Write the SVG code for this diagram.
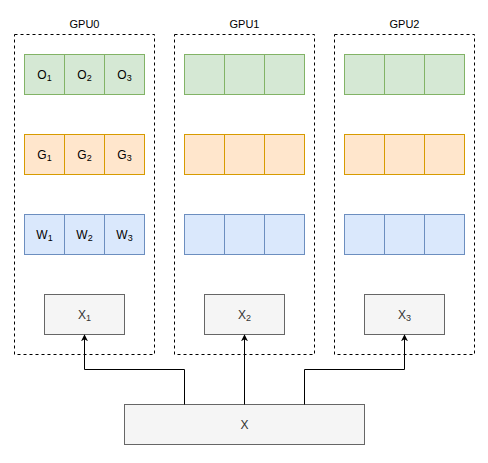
<svg xmlns="http://www.w3.org/2000/svg" width="488" height="463" viewBox="0 0 488 463">
<defs>
<marker id="arr" viewBox="0 0 10 10" refX="9" refY="5" markerWidth="7" markerHeight="7" orient="auto" markerUnits="userSpaceOnUse">
<path d="M0,0 L10,5 L0,10 L3,5 Z" fill="#000"/>
</marker>
</defs>
<style>
text{font-family:"Liberation Sans",Arial,Helvetica,sans-serif;}
.gpu{fill:none;stroke:#000;stroke-width:1;stroke-dasharray:3,3;}
.title{font-size:11px;fill:#000;text-anchor:middle;}
.o{fill:#d5e8d4;stroke:#82b366;}
.g{fill:#ffe6cc;stroke:#d79b00;}
.w{fill:#dae8fc;stroke:#6c8ebf;}
.x{fill:#f5f5f5;stroke:#666666;}
.lbl{font-size:12px;fill:#000;text-anchor:middle;}
.xl{font-size:12px;fill:#333333;text-anchor:middle;}
.sub{font-size:9px;}
.conn{fill:none;stroke:#000;stroke-width:1;}
</style>
<rect width="488" height="463" fill="#fff"/>

<g id="gpu0">
<rect class="gpu" x="14.5" y="34.5" width="140" height="320"/>
<text class="title" x="84.5" y="28">GPU0</text>
</g>
<g id="gpu1">
<rect class="gpu" x="174.5" y="34.5" width="140" height="320"/>
<text class="title" x="244.5" y="28">GPU1</text>
</g>
<g id="gpu2">
<rect class="gpu" x="334.5" y="34.5" width="140" height="320"/>
<text class="title" x="404.5" y="28">GPU2</text>
</g>

<g id="gpu0-O">
<rect class="o" x="24.5" y="54.5" width="40" height="40"/>
<rect class="o" x="64.5" y="54.5" width="40" height="40"/>
<rect class="o" x="104.5" y="54.5" width="40" height="40"/>
<text class="lbl" x="44.5" y="78.5">O<tspan class="sub" dy="2">1</tspan></text>
<text class="lbl" x="84.5" y="78.5">O<tspan class="sub" dy="2">2</tspan></text>
<text class="lbl" x="124.5" y="78.5">O<tspan class="sub" dy="2">3</tspan></text>
</g>
<g id="gpu0-G">
<rect class="g" x="24.5" y="134.5" width="40" height="40"/>
<rect class="g" x="64.5" y="134.5" width="40" height="40"/>
<rect class="g" x="104.5" y="134.5" width="40" height="40"/>
<text class="lbl" x="44.5" y="158.5">G<tspan class="sub" dy="2">1</tspan></text>
<text class="lbl" x="84.5" y="158.5">G<tspan class="sub" dy="2">2</tspan></text>
<text class="lbl" x="124.5" y="158.5">G<tspan class="sub" dy="2">3</tspan></text>
</g>
<g id="gpu0-W">
<rect class="w" x="24.5" y="214.5" width="40" height="40"/>
<rect class="w" x="64.5" y="214.5" width="40" height="40"/>
<rect class="w" x="104.5" y="214.5" width="40" height="40"/>
<text class="lbl" x="44.5" y="238.5">W<tspan class="sub" dy="2">1</tspan></text>
<text class="lbl" x="84.5" y="238.5">W<tspan class="sub" dy="2">2</tspan></text>
<text class="lbl" x="124.5" y="238.5">W<tspan class="sub" dy="2">3</tspan></text>
</g>
<g id="x1">
<rect class="x" x="44.5" y="294.5" width="80" height="40"/>
<text class="xl" x="84.5" y="318.5">X<tspan class="sub" dy="2">1</tspan></text>
</g>

<g id="gpu1-O">
<rect class="o" x="184.5" y="54.5" width="40" height="40"/>
<rect class="o" x="224.5" y="54.5" width="40" height="40"/>
<rect class="o" x="264.5" y="54.5" width="40" height="40"/>
</g>
<g id="gpu1-G">
<rect class="g" x="184.5" y="134.5" width="40" height="40"/>
<rect class="g" x="224.5" y="134.5" width="40" height="40"/>
<rect class="g" x="264.5" y="134.5" width="40" height="40"/>
</g>
<g id="gpu1-W">
<rect class="w" x="184.5" y="214.5" width="40" height="40"/>
<rect class="w" x="224.5" y="214.5" width="40" height="40"/>
<rect class="w" x="264.5" y="214.5" width="40" height="40"/>
</g>
<g id="x2">
<rect class="x" x="204.5" y="294.5" width="80" height="40"/>
<text class="xl" x="244.5" y="318.5">X<tspan class="sub" dy="2">2</tspan></text>
</g>

<g id="gpu2-O">
<rect class="o" x="344.5" y="54.5" width="40" height="40"/>
<rect class="o" x="384.5" y="54.5" width="40" height="40"/>
<rect class="o" x="424.5" y="54.5" width="40" height="40"/>
</g>
<g id="gpu2-G">
<rect class="g" x="344.5" y="134.5" width="40" height="40"/>
<rect class="g" x="384.5" y="134.5" width="40" height="40"/>
<rect class="g" x="424.5" y="134.5" width="40" height="40"/>
</g>
<g id="gpu2-W">
<rect class="w" x="344.5" y="214.5" width="40" height="40"/>
<rect class="w" x="384.5" y="214.5" width="40" height="40"/>
<rect class="w" x="424.5" y="214.5" width="40" height="40"/>
</g>
<g id="x3">
<rect class="x" x="364.5" y="294.5" width="80" height="40"/>
<text class="xl" x="404.5" y="318.5">X<tspan class="sub" dy="2">3</tspan></text>
</g>

<g id="x">
<rect class="x" x="124.5" y="404.5" width="240" height="40"/>
<text class="xl" x="244.5" y="428.5">X</text>
</g>

<g id="connectors">
<path class="conn" d="M184.5,404.5 V369.5 H84.5 V335" marker-end="url(#arr)"/>
<path class="conn" d="M244.5,404.5 V335" marker-end="url(#arr)"/>
<path class="conn" d="M304.5,404.5 V369.5 H404.5 V335" marker-end="url(#arr)"/>
</g>
</svg>
